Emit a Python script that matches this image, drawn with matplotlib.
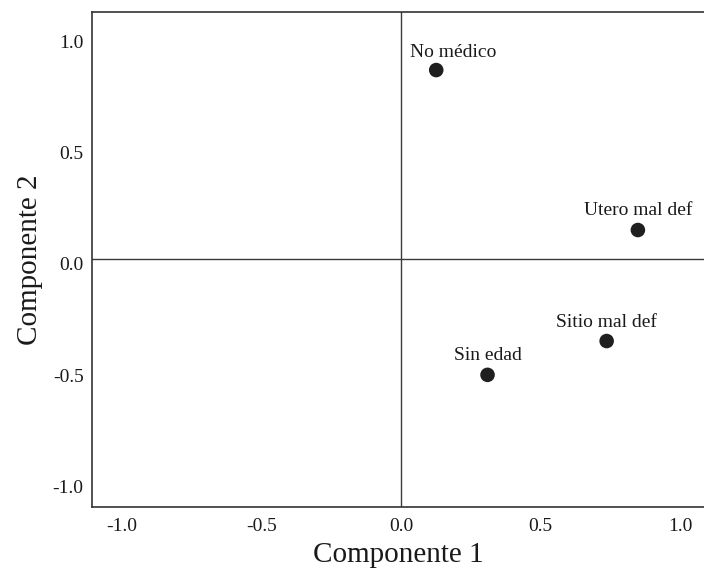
import matplotlib
matplotlib.use("Agg")
import matplotlib.pyplot as plt
import matplotlib.transforms as mtransforms

# Data
labels = ["No médico", "Utero mal def", "Sitio mal def", "Sin edad"]
comp1 = [0.126, 0.849, 0.737, 0.310]
comp2 = [0.849, 0.130, -0.369, -0.521]
ticks = [-1.0, -0.5, 0.0, 0.5, 1.0]
tick_labels = ["-1.0", "-0.5", "0.0", "0.5", "1.0"]
xlabel = "Componente 1"
ylabel = "Componente 2"

# label offsets in points (style)
label_offsets = [(12, 13), (0, 14), (0, 13), (0, 14)]

plt.rcParams['font.family'] = ['Liberation Serif', 'DejaVu Serif']

fig = plt.figure(figsize=(7.04, 5.73), dpi=100)
ax = fig.add_axes([92/704, (573-507)/573, (704-92)/704, (507-12)/573])

ax.set_xlim(-1.108, 1.086)
ax.set_ylim(-1.115, 1.110)

ax.axhline(0, color='#3a3a3a', lw=1.0, zorder=1)
ax.axvline(0, color='#3a3a3a', lw=1.0, zorder=1)

ax.scatter(comp1, comp2, s=110, color='#1f1f1f', zorder=3, edgecolors='none')
for lab, x, y, (dx, dy) in zip(labels, comp1, comp2, label_offsets):
    ax.annotate(lab, (x, y), xytext=(dx, dy), textcoords='offset points',
                ha='center', va='center', fontsize=14, color='#1a1a1a')

ax.set_xticks(ticks)
ax.set_xticklabels(tick_labels, fontsize=14, color='#1a1a1a')
ax.set_yticks(ticks)
ax.set_yticklabels(tick_labels, fontsize=14, color='#1a1a1a')
ax.tick_params(axis='both', length=0)
ax.tick_params(axis='x', pad=8)
ax.tick_params(axis='y', pad=6)

offset = mtransforms.ScaledTranslation(0, -5/100, fig.dpi_scale_trans)
for t in ax.get_yticklabels():
    t.set_transform(t.get_transform() + offset)

ax.set_xlabel(xlabel, fontsize=21, color='#1a1a1a', labelpad=5)
ax.set_ylabel(ylabel, fontsize=21, color='#1a1a1a', labelpad=7)

for side in ['left', 'top', 'bottom']:
    ax.spines[side].set_color('#333333')
    ax.spines[side].set_linewidth(1.2)
ax.spines['right'].set_visible(False)

fig.savefig("out.png", dpi=100)
